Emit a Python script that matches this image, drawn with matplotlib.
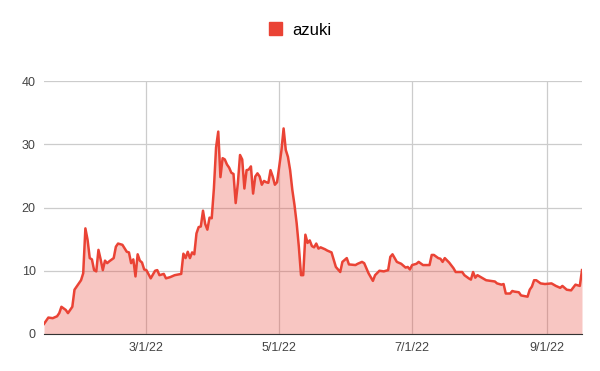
import matplotlib
matplotlib.use("Agg")
import matplotlib.pyplot as plt
import pandas as pd

plt.rcParams['font.family'] = ['Liberation Sans', 'DejaVu Sans']

dates = [
	"2022-01-13", "2022-01-15", "2022-01-17", "2022-01-19", "2022-01-20", "2022-01-21",
	"2022-01-23", "2022-01-24", "2022-01-26", "2022-01-27", "2022-01-28", "2022-01-29",
	"2022-01-30", "2022-01-31", "2022-02-01", "2022-02-02", "2022-02-03", "2022-02-04",
	"2022-02-05", "2022-02-06", "2022-02-07", "2022-02-08", "2022-02-09", "2022-02-10",
	"2022-02-11", "2022-02-12", "2022-02-14", "2022-02-15", "2022-02-16", "2022-02-18",
	"2022-02-20", "2022-02-21", "2022-02-22", "2022-02-23", "2022-02-24", "2022-02-25",
	"2022-02-26", "2022-02-27", "2022-02-28", "2022-03-01", "2022-03-03", "2022-03-05",
	"2022-03-06", "2022-03-07", "2022-03-09", "2022-03-10", "2022-03-12", "2022-03-14",
	"2022-03-17", "2022-03-18", "2022-03-19", "2022-03-20", "2022-03-21", "2022-03-22",
	"2022-03-23", "2022-03-24", "2022-03-25", "2022-03-26", "2022-03-27", "2022-03-28",
	"2022-03-29", "2022-03-30", "2022-03-31", "2022-04-01", "2022-04-02", "2022-04-03",
	"2022-04-04", "2022-04-05", "2022-04-06", "2022-04-07", "2022-04-08", "2022-04-09",
	"2022-04-10", "2022-04-11", "2022-04-12", "2022-04-13", "2022-04-14", "2022-04-15",
	"2022-04-16", "2022-04-17", "2022-04-18", "2022-04-19", "2022-04-20", "2022-04-21",
	"2022-04-22", "2022-04-23", "2022-04-24", "2022-04-25", "2022-04-26", "2022-04-27",
	"2022-04-28", "2022-04-29", "2022-04-30", "2022-05-01", "2022-05-02", "2022-05-03",
	"2022-05-04", "2022-05-05", "2022-05-06", "2022-05-07", "2022-05-08", "2022-05-09",
	"2022-05-10", "2022-05-11", "2022-05-12", "2022-05-13", "2022-05-14", "2022-05-15",
	"2022-05-16", "2022-05-17", "2022-05-18", "2022-05-19", "2022-05-20", "2022-05-22",
	"2022-05-23", "2022-05-25", "2022-05-27", "2022-05-29", "2022-05-30", "2022-06-01",
	"2022-06-02", "2022-06-05", "2022-06-06", "2022-06-08", "2022-06-09", "2022-06-11",
	"2022-06-13", "2022-06-14", "2022-06-16", "2022-06-18", "2022-06-20", "2022-06-21",
	"2022-06-22", "2022-06-24", "2022-06-26", "2022-06-28", "2022-06-29", "2022-06-30",
	"2022-07-01", "2022-07-03", "2022-07-04", "2022-07-06", "2022-07-09", "2022-07-10",
	"2022-07-11", "2022-07-13", "2022-07-14", "2022-07-15", "2022-07-16", "2022-07-18",
	"2022-07-20", "2022-07-21", "2022-07-24", "2022-07-25", "2022-07-27", "2022-07-28",
	"2022-07-29", "2022-07-30", "2022-07-31", "2022-08-02", "2022-08-04", "2022-08-06",
	"2022-08-08", "2022-08-09", "2022-08-11", "2022-08-12", "2022-08-13", "2022-08-15",
	"2022-08-16", "2022-08-17", "2022-08-19", "2022-08-20", "2022-08-23", "2022-08-24",
	"2022-08-25", "2022-08-26", "2022-08-27", "2022-08-29", "2022-08-31", "2022-09-03",
	"2022-09-05", "2022-09-07", "2022-09-08", "2022-09-10", "2022-09-12", "2022-09-14",
	"2022-09-16", "2022-09-17",
]
azuki = [
	1.6, 2.6, 2.5, 2.8, 3.3, 4.3,
	3.8, 3.3, 4.3, 7.0, 7.5, 8.0,
	8.5, 9.6, 16.7, 14.9, 12.0, 11.8,
	10.1, 9.9, 13.3, 11.8, 10.1, 11.6,
	11.2, 11.5, 12.0, 13.8, 14.3, 14.1,
	13.0, 12.9, 11.2, 11.8, 9.1, 12.6,
	11.6, 11.3, 10.2, 10.1, 8.8, 10.0,
	10.1, 9.3, 9.5, 8.8, 9.0, 9.3,
	9.5, 12.7, 12.0, 13.0, 12.0, 12.9,
	12.6, 15.9, 16.9, 17.0, 19.5, 17.4,
	16.5, 18.4, 18.3, 23.0, 29.5, 32.0,
	24.8, 27.8, 27.6, 26.8, 26.3, 25.5,
	25.3, 20.7, 23.8, 28.3, 27.6, 23.0,
	25.9, 26.0, 26.5, 22.2, 24.9, 25.4,
	24.9, 23.6, 24.2, 24.0, 23.9, 25.9,
	24.9, 23.6, 24.0, 26.5, 29.0, 32.5,
	29.1, 28.0, 25.9, 22.8, 20.4, 17.5,
	13.8, 9.3, 9.3, 15.7, 14.4, 14.8,
	13.9, 13.7, 14.3, 13.5, 13.7, 13.4,
	13.2, 12.9, 10.6, 9.8, 11.4, 12.0,
	11.0, 10.9, 11.1, 11.4, 11.2, 9.6,
	8.4, 9.3, 10.0, 9.9, 10.1, 12.2,
	12.6, 11.4, 11.1, 10.5, 10.6, 10.2,
	10.9, 11.1, 11.4, 10.9, 10.9, 12.5,
	12.5, 12.0, 11.9, 11.4, 12.0, 11.3,
	10.4, 9.8, 9.8, 9.3, 8.8, 8.6,
	9.8, 8.9, 9.3, 8.9, 8.5, 8.4,
	8.3, 8.0, 7.8, 7.9, 6.4, 6.4,
	6.8, 6.7, 6.6, 6.1, 5.9, 7.0,
	7.5, 8.5, 8.5, 8.0, 7.9, 8.0,
	7.6, 7.3, 7.6, 7.0, 6.9, 7.8,
	7.6, 10.1,
]
tick_dates = ["2022-03-01", "2022-05-01", "2022-07-01", "2022-09-01"]
tick_labels = ["3/1/22", "5/1/22", "7/1/22", "9/1/22"]
y_ticks = [0, 10, 20, 30, 40]

color = '#ea4335'
x = pd.to_datetime(dates)

fig = plt.figure(figsize=(6, 3.71), dpi=100)
ax = fig.add_axes([44/600, 1-334/371, 538/600, 253/371])
ax.fill_between(x, azuki, 0, color=color, alpha=0.3, linewidth=0)
ax.plot(x, azuki, color=color, linewidth=1.8, label='azuki')

ax.set_xlim(x[0], x[-1])
ax.set_ylim(0, 40)
ax.set_yticks(y_ticks)
ax.set_xticks(pd.to_datetime(tick_dates))
ax.set_xticklabels(tick_labels)
ax.grid(True, color='#cccccc', linewidth=0.9)
ax.set_axisbelow(True)
for s in ['top', 'right', 'left']:
	ax.spines[s].set_visible(False)
ax.spines['bottom'].set_color('#333333')
ax.tick_params(length=0, labelsize=9, colors='#444444', pad=6)

fig.legend(handles=[plt.Rectangle((0, 0), 1, 1, color=color)], labels=['azuki'],
	loc='center', bbox_to_anchor=(0.5, 1-30/371), frameon=False, fontsize=12,
	handlelength=0.8, handleheight=0.8, handletextpad=0.6)

fig.savefig('out.png', dpi=100)
